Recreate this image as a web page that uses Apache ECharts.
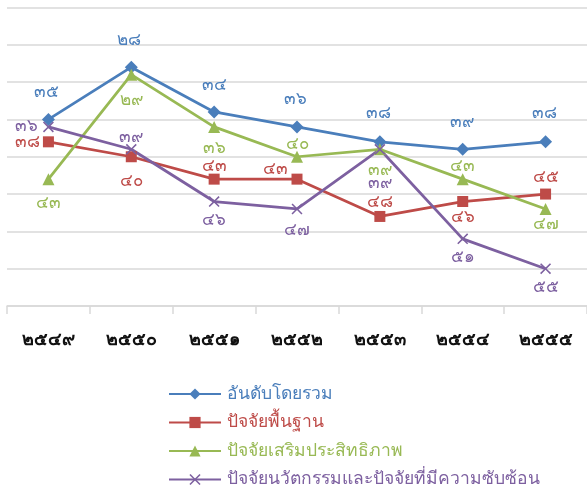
<!DOCTYPE html>
<html><head><meta charset="utf-8">
<script src="https://cdn.jsdelivr.net/npm/echarts@6/dist/echarts.min.js"></script>
<style>html,body{margin:0;padding:0;background:#fff}#c{width:587px;height:493px}</style>
</head><body><div id="c"></div>
<script>
const categories = ['๒๕๔๙','๒๕๕๐','๒๕๕๑','๒๕๕๒','๒๕๕๓','๒๕๕๔','๒๕๕๕'];
const seriesNames = ['อันดับโดยรวม','ปัจจัยพื้นฐาน','ปัจจัยเสริมประสิทธิภาพ','ปัจจัยนวัตกรรมและปัจจัยที่มีความซับซ้อน'];
const overall = [35, 28, 34, 36, 38, 39, 38];
const basic = [38, 40, 43, 43, 48, 46, 45];
const efficiency = [43, 29, 36, 40, 39, 43, 47];
const innovation = [36, 39, 46, 47, 39, 51, 55];

// label placement (styling, kept separate from values): [dx, dy]
const overallLbl = [[-2,-27],[-2,-27],[0,-27],[-2,-28],[-1,-29],[-1,-27],[-1,-29]];
const basicLbl = [[-21,0],[0,24],[0,-13],[-22,-10],[0,-14],[0,16],[0,-17]];
const effLbl = [[0,24],[0,25],[0,21],[0,-13],[0,21],[0,-13],[0,15]];
const innLbl = [[-22,-1],[0,-12],[0,19],[0,21],[0,34],[0,18],[0,18]];

const colors = ['#4A7EBB','#BE4B48','#98B954','#7D60A0'];
const FONT = 'Noto Sans, DejaVu Sans, sans-serif';
const thaiDigits = '๐๑๒๓๔๕๖๗๘๙';
const toThai = n => String(n).replace(/[0-9]/g, d => thaiDigits[+d]);

const crossPath = 'path://M0,1L1,0L5,4L9,0L10,1L6,5L10,9L9,10L5,6L1,10L0,9L4,5Z';

function mkSeries(name, vals, lbl, color, symbol, size) {
  return {
    name, type: 'line', data: vals.map((v, i) => ({
      value: v,
      label: { show: true, position: 'inside', offset: lbl[i], formatter: p => toThai(p.value),
               color, fontSize: 17, fontFamily: FONT }
    })),
    symbol, symbolSize: size, showAllSymbol: true,
    lineStyle: { color, width: 2.75 },
    itemStyle: { color },
    emphasis: { disabled: true },
    animation: false
  };
}

const chart = echarts.init(document.getElementById('c'), null, { renderer: 'canvas' });
chart.setOption({
  animation: false,
  backgroundColor: '#fff',
  grid: { left: 7, top: 7.5, width: 584, height: 298.5, containLabel: false },
  xAxis: {
    type: 'category', data: categories, boundaryGap: true,
    axisLine: { lineStyle: { color: '#D9D9D9', width: 1.5 } },
    axisTick: { show: true, length: 8, lineStyle: { color: '#D9D9D9', width: 1.5 } },
    axisLabel: { margin: 25, color: '#111', fontSize: 18, fontWeight: 'bold', fontFamily: FONT }
  },
  yAxis: {
    type: 'value', inverse: true, min: 20, max: 60, interval: 5,
    axisLabel: { show: false }, axisLine: { show: false }, axisTick: { show: false },
    splitLine: { lineStyle: { color: '#D9D9D9', width: 1.5 } }
  },
  legend: {
    orient: 'vertical', left: 168, top: 385, height: 110, padding: 0,
    itemWidth: 52, itemHeight: 14, itemGap: 10.5,
    textStyle: { fontSize: 17.5, fontFamily: FONT, padding: [0, 0, 0, 1] },
    data: seriesNames.map((n, i) => ({ name: n, textStyle: { color: colors[i] } }))
  },
  series: [
    mkSeries(seriesNames[0], overall, overallLbl, colors[0], 'diamond', 13),
    mkSeries(seriesNames[1], basic, basicLbl, colors[1], 'rect', 11),
    mkSeries(seriesNames[2], efficiency, effLbl, colors[2], 'triangle', 12),
    mkSeries(seriesNames[3], innovation, innLbl, colors[3], crossPath, 11)
  ]
});
</script></body></html>
